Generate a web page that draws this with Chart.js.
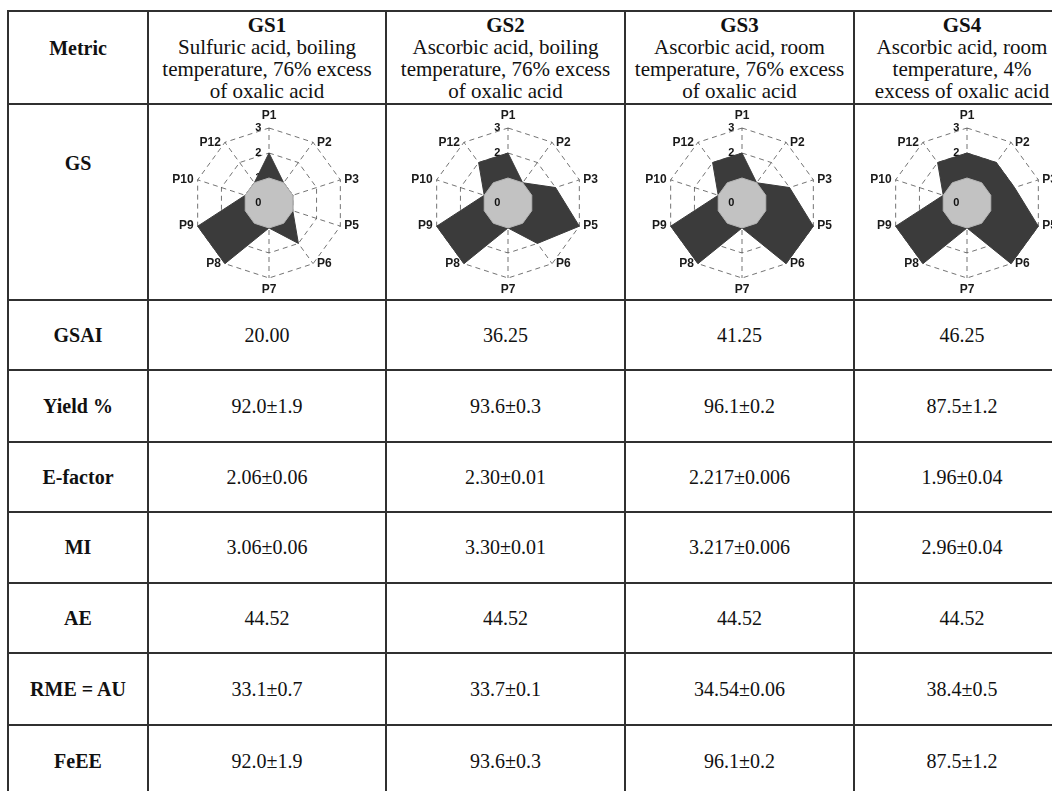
<!DOCTYPE html>
<html><head><meta charset="utf-8">
<script src="https://cdn.jsdelivr.net/npm/chart.js@4.4.1/dist/chart.umd.min.js"></script>
<style>
html,body{margin:0;padding:0;background:#fff;}
body{width:1052px;height:791px;overflow:hidden;position:relative;font-family:"Liberation Serif","Times New Roman",serif;color:#111;}
table{position:absolute;left:7px;top:10px;border-collapse:collapse;table-layout:fixed;width:1062px;}
td{border:2px solid #303030;text-align:center;vertical-align:middle;padding:0;font-size:20px;box-sizing:border-box;font-family:"Liberation Serif","Times New Roman",serif;}
td.m{font-weight:bold;}
td.h{font-size:21px;line-height:22px;}
td.h b{font-size:21px;}
.chartbox{position:absolute;width:224px;height:196px;}
</style></head>
<body>
<table id="tbl"><colgroup id="cg"></colgroup><tbody id="tb"></tbody></table>
<script>
// ---- data ----
const axisLabels = ['P1','P2','P3','P5','P6','P7','P8','P9','P10','P12'];
const baseline = [1,1,1,1,1,1,1,1,1,1];
const gs1 = [2,1,1,1,2,1,3,3,1,1];
const gs2 = [2,1,2,3,2,1,3,3,1,2];
const gs3 = [2,1,2,3,3,1,3,3,1,2];
const gs4 = [2,2,2,3,3,1,3,3,1,2];
const scaleTicks = [0,1,2,3];

const gsNames = ['GS1','GS2','GS3','GS4'];
const gsDesc = [
  ['Sulfuric acid, boiling','temperature, 76% excess','of oxalic acid'],
  ['Ascorbic acid, boiling','temperature, 76% excess','of oxalic acid'],
  ['Ascorbic acid, room','temperature, 76% excess','of oxalic acid'],
  ['Ascorbic acid, room','temperature, 4%','excess of oxalic acid']
];
const metricNames = ['GSAI','Yield %','E-factor','MI','AE','RME = AU','FeEE'];
const gsai    = ['20.00','36.25','41.25','46.25'];
const yieldPc = ['92.0±1.9','93.6±0.3','96.1±0.2','87.5±1.2'];
const efactor = ['2.06±0.06','2.30±0.01','2.217±0.006','1.96±0.04'];
const mi      = ['3.06±0.06','3.30±0.01','3.217±0.006','2.96±0.04'];
const ae      = ['44.52','44.52','44.52','44.52'];
const rme     = ['33.1±0.7','33.7±0.1','34.54±0.06','38.4±0.5'];
const feee    = ['92.0±1.9','93.6±0.3','96.1±0.2','87.5±1.2'];

// ---- layout ----
const colW = [140,238,239,229,216];
const rowH = [93,196,70,72,70,71,70,72,72];
const chartCenters = [269,508,742,967];
const chartCY = 203;

const cg = document.getElementById('cg');
colW.forEach(w=>{const c=document.createElement('col');c.style.width=w+'px';cg.appendChild(c);});
const tb = document.getElementById('tb');
function addRow(h, cells){
  const tr=document.createElement('tr');
  cells.forEach(c=>{const td=document.createElement('td');td.className=c.cls||'';td.innerHTML=c.html;td.style.height=h+'px';if(c.style)td.setAttribute('style',td.getAttribute('style')+';'+c.style);tr.appendChild(td);});
  tb.appendChild(tr);
}
addRow(rowH[0], [{cls:'m',html:'Metric',style:'padding-bottom:18px'}].concat(
  gsNames.map((n,i)=>({cls:'h',html:'<b>'+n+'</b><br>'+gsDesc[i].join('<br>')}))));
addRow(rowH[1], [{cls:'m',html:'GS',style:'padding-bottom:78px'},{html:''},{html:''},{html:''},{html:''}]);
const rowsVals=[gsai,yieldPc,efactor,mi,ae,rme,feee];
metricNames.forEach((m,k)=>{
  addRow(rowH[k+2], [{cls:'m',html:m}].concat(rowsVals[k].map(v=>({html:v}))));
});

// ---- charts ----
const LBL_FONT='bold 12px "Liberation Sans", Arial, sans-serif';
const radarExtras = {
  id:'radarExtras',
  afterDraw(chart){
    const s=chart.scales.r, ctx=chart.ctx;
    ctx.save();
    // zero tick label at the centre
    ctx.font='bold 11px "Liberation Sans", Arial, sans-serif';
    ctx.fillStyle='#111';ctx.textAlign='center';ctx.textBaseline='middle';
    ctx.fillText(String(scaleTicks[0])+'       ', s.xCenter, s.yCenter);
    // point labels
    ctx.font=LBL_FONT;ctx.fillStyle='#1a1a1a';
    chart.data.labels.forEach((lab,i)=>{
      const p=s.getPointPosition(i, s.drawingArea);
      const dx=p.x-s.xCenter, dy=p.y-s.yCenter;
      if (Math.abs(dx)<1){
        ctx.textAlign='center';ctx.textBaseline='middle';
        ctx.fillText(lab, p.x, p.y + (dy<0?-12:12));
      } else {
        ctx.textBaseline='middle';
        ctx.textAlign = dx>0?'left':'right';
        ctx.fillText(lab, p.x + (dx>0?4:-4), p.y);
      }
    });
    ctx.restore();
  }
};
const series=[gs1,gs2,gs3,gs4];
series.forEach((vals,i)=>{
  const box=document.createElement('div');
  box.className='chartbox';
  box.style.left=(chartCenters[i]-112)+'px';
  box.style.top=(chartCY-98)+'px';
  const cv=document.createElement('canvas');
  cv.width=224;cv.height=196;
  box.appendChild(cv);document.body.appendChild(box);
  new Chart(cv,{
    type:'radar',
    data:{labels:axisLabels,datasets:[
      {data:baseline,backgroundColor:'#c2c2c2',borderColor:'#b4b4b4',borderWidth:1,pointRadius:0,fill:true},
      {data:vals,backgroundColor:'#3b3b3b',borderColor:'#3b3b3b',borderWidth:1,pointRadius:0,fill:true}
    ]},
    options:{
      responsive:false,animation:false,
      plugins:{legend:{display:false},tooltip:{enabled:false}},
      layout:{padding:{top:15,bottom:15,left:29,right:29}},
      scales:{r:{
        min:scaleTicks[0],max:scaleTicks[scaleTicks.length-1],z:1,
        ticks:{stepSize:1,showLabelBackdrop:false,color:'#111',
          font:{family:'"Liberation Sans", Arial, sans-serif',weight:'bold',size:11},
          callback:v=>v+'       '},
        grid:{color:'rgba(0,0,0,0.55)',lineWidth:1,borderDash:[5,4]},
        border:{dash:[5,4]},
        angleLines:{color:'rgba(0,0,0,0.55)',lineWidth:1,borderDash:[5,4]},
        pointLabels:{display:false}
      }}
    },
    plugins:[radarExtras]
  });
});
</script>
</body></html>
